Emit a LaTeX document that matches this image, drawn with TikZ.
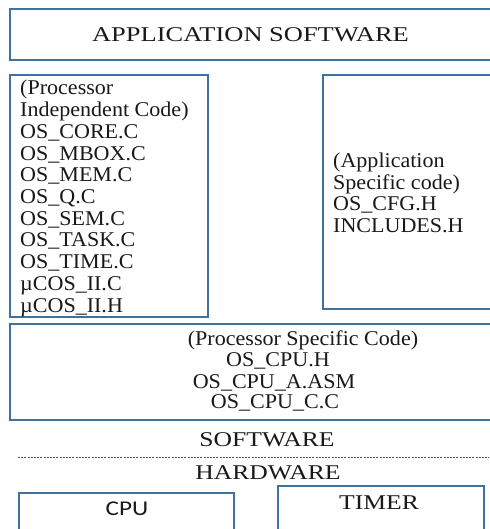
\documentclass[tikz,border=0pt]{standalone}
\usepackage{fontspec}
\setmainfont{Liberation Serif}
\newfontfamily\cpufont{Carlito}
\definecolor{boxblue}{HTML}{41719C}
\newcommand{\sx}[2]{\scalebox{#1}[1]{#2}}
\begin{document}
\begin{tikzpicture}[x=1pt,y=-1pt,
  panel/.style={draw=boxblue, line width=1.7pt, anchor=north west, inner sep=0pt},
  lbl/.style={inner sep=0pt, font=\fontsize{21}{23}\selectfont, text=black!90},
  sepline/.style={draw=black!70, line width=0.7pt, dash pattern=on 2pt off 1.2pt},
]
\useasboundingbox (0,0) rectangle (489,529);
\fill[white] (0,0) rectangle (489,529);
% boxes
\node[panel, minimum width=491pt, minimum height=51pt] (app) at (9,8) {};
\node[panel, minimum width=198pt, minimum height=242pt] (indep) at (9,74) {};
\node[panel, minimum width=178pt, minimum height=234pt] (spec) at (322,74) {};
\node[panel, minimum width=491pt, minimum height=96pt] (proc) at (9,323) {};
\node[panel, minimum width=215pt, minimum height=50pt] (cpu) at (18,492) {};
\node[panel, minimum width=206pt, minimum height=55pt] (timer) at (277,485) {};
% heading
\node[lbl, anchor=base] (apptxt) at (250.5,41.3) {\sx{1.26}{APPLICATION SOFTWARE}};
% processor independent code
\node[lbl, anchor=base west] (li1) at (20,95) {\sx{1.05}{(Processor}};
\node[lbl, anchor=base west] (li2) at (20,116.7) {\sx{1.05}{Independent Code)}};
\foreach \t [count=\i from 3] in {OS\_CORE.C,OS\_MBOX.C,OS\_MEM.C,OS\_Q.C,OS\_SEM.C,OS\_TASK.C,OS\_TIME.C,µCOS\_II.C,µCOS\_II.H}
  \node[lbl, anchor=base west] (li\i) at (20,{95+21.7*(\i-1)}) {\sx{1.05}{\t}};
% application specific
\node[lbl, anchor=base west] (r1) at (333,167.6) {\sx{1.05}{(Application}};
\node[lbl, anchor=base west] (r2) at (333,189.3) {\sx{1.05}{Specific code)}};
\node[lbl, anchor=base west] (r3) at (333,211) {\sx{1.05}{OS\_CFG.H}};
\node[lbl, anchor=base west] (r4) at (333,232.7) {\sx{1.05}{INCLUDES.H}};
% processor specific
\node[lbl, anchor=base] (p1) at (303,345) {\sx{1.05}{(Processor Specific Code)}};
\node[lbl, anchor=base] (p2) at (278,366.7) {\sx{1.05}{OS\_CPU.H}};
\node[lbl, anchor=base] (p3) at (274,388) {\sx{1.05}{OS\_CPU\_A.ASM}};
\node[lbl, anchor=base] (p4) at (275,408) {\sx{1.05}{OS\_CPU\_C.C}};
% software / hardware
\node[lbl, anchor=base] (sw) at (267,446.7) {\sx{1.22}{SOFTWARE}};
\coordinate (dl) at (18,457);
\coordinate (dr) at (489,457);
\draw[sepline] (dl) -- (dr);
\node[lbl, anchor=base] (hw) at (268,479) {\sx{1.22}{HARDWARE}};
\node[lbl, anchor=base, font=\cpufont\fontsize{21}{23}\selectfont] (cputxt) at (127,515) {\sx{1.2}{CPU}};
\node[lbl, anchor=base] (timertxt) at (379,509.5) {\sx{1.22}{TIMER}};
\end{tikzpicture}
\end{document}
